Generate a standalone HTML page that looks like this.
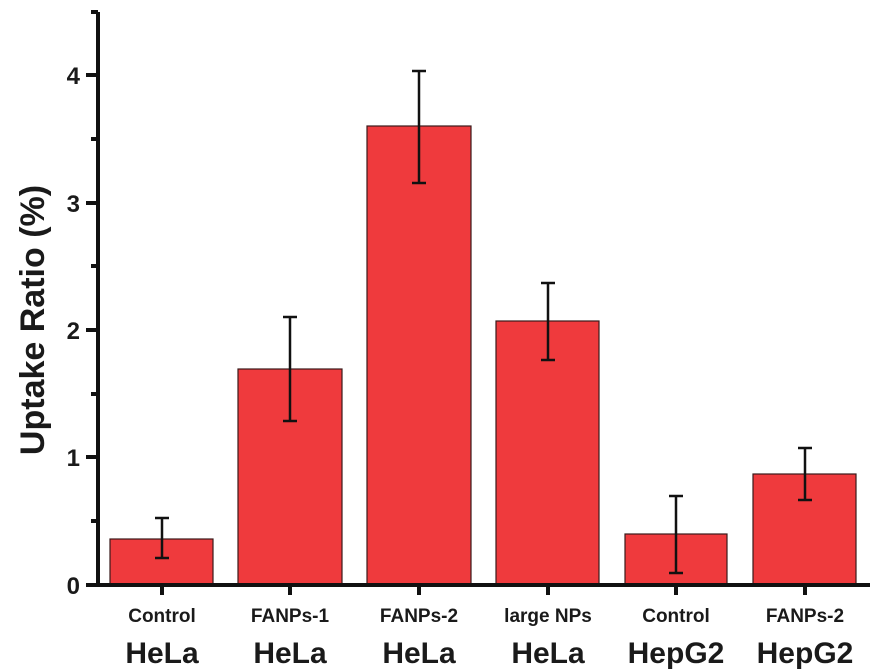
<!DOCTYPE html>
<html><head><style>body{margin:0;background:#fff}svg{display:block}text{font-family:"Liberation Sans",Arial,sans-serif;fill:#1a1a1a}</style></head><body>
<svg width="884" height="671" viewBox="0 0 884 671">
<g fill="#ef3a3d" stroke="#3a1a1a" stroke-width="1.2">
<rect x="110" y="539" width="103" height="46"/>
<rect x="238" y="369" width="104" height="216"/>
<rect x="367" y="126" width="104" height="459"/>
<rect x="496" y="321" width="103" height="264"/>
<rect x="625" y="534" width="102" height="51"/>
<rect x="753" y="474" width="103" height="111"/>
</g>
<g stroke="#111" stroke-width="2.5">
<path d="M162 518V558M155 518H169M155 558H169"/>
<path d="M290 317V421M283 317H297M283 421H297"/>
<path d="M419 71V183M412 71H426M412 183H426"/>
<path d="M548 283V360M541 283H555M541 360H555"/>
<path d="M676 496V573M669 496H683M669 573H683"/>
<path d="M805 448V500M798 448H812M798 500H812"/>
</g>
<g stroke="#111" stroke-width="4" fill="none">
<path d="M98 12V587M86 585H870"/>
<path d="M86 457H98M86 330H98M86 203H98M86 75H98"/>
<path d="M91 521H98M91 394H98M91 266H98M91 139H98M91 12H98"/>
<path d="M162 585V595M290 585V595M419 585V595M548 585V595M676 585V595M805 585V595"/>
</g>
<g font-size="24" font-weight="bold" text-anchor="end">
<text x="80" y="594">0</text><text x="80" y="466">1</text><text x="80" y="339">2</text><text x="80" y="212">3</text><text x="80" y="84">4</text>
</g>
<text transform="translate(44,320) rotate(-90)" font-size="34" font-weight="bold" text-anchor="middle">Uptake Ratio (%)</text>
<g font-size="19" font-weight="bold" text-anchor="middle">
<text x="162" y="622">Control</text><text x="290" y="622">FANPs-1</text><text x="419" y="622">FANPs-2</text><text x="548" y="622">large NPs</text><text x="676" y="622">Control</text><text x="805" y="622">FANPs-2</text>
</g>
<g font-size="30" font-weight="bold" text-anchor="middle">
<text x="162" y="663">HeLa</text><text x="290" y="663">HeLa</text><text x="419" y="663">HeLa</text><text x="548" y="663">HeLa</text><text x="676" y="663">HepG2</text><text x="805" y="663">HepG2</text>
</g>
</svg>
</body></html>
